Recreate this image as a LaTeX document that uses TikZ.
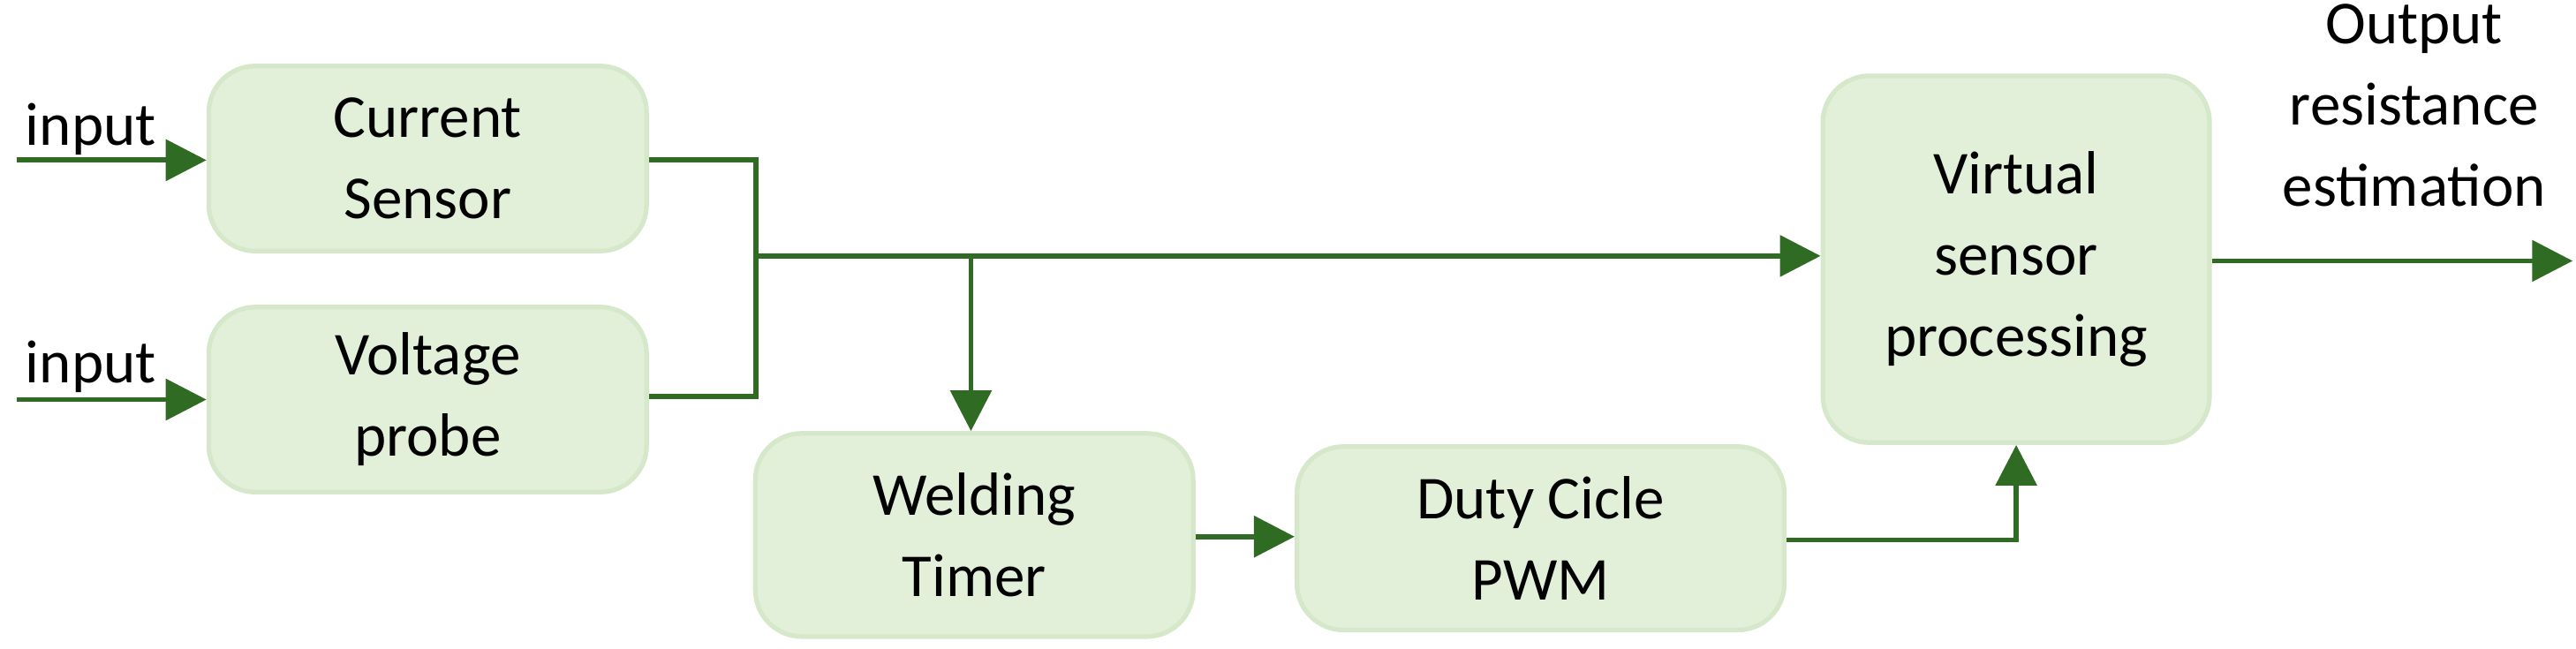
\documentclass[tikz,border=0pt]{standalone}
\usepackage{fontspec}
\setmainfont{Carlito}
\usetikzlibrary{arrows.meta}
\usetikzlibrary{calc}
\definecolor{boxfill}{HTML}{E2F0D9}
\definecolor{boxline}{HTML}{D5E8CA}
\definecolor{wire}{HTML}{2F6B22}
\tikzset{
    block/.style = {rectangle, rounded corners=8pt, draw=boxline, fill=boxfill,
        line width=0.8pt, align=center, font=\fontsize{10.5}{14}\selectfont},
    wire/.style = {draw=wire, line width=0.9pt},
    arr/.style = {wire, -{Triangle[length=7pt,width=7pt]}},
    lbl/.style = {align=center, font=\fontsize{10.5}{14}\selectfont},
}
\begin{document}
\begin{tikzpicture}[x=0.01cm,y=-0.01cm]
\useasboundingbox (0,0) rectangle (1560,393);
% blocks
\node [block, minimum width=2.65cm, minimum height=1.12cm] (cur) at (259,96) {Current\\Sensor};
\node [block, minimum width=2.65cm, minimum height=1.12cm] (volt) at (259,242) {Voltage\\probe};
\node [block, minimum width=2.65cm, minimum height=1.23cm] (weld) at (590,324) {Welding\\Timer};
\node [block, minimum width=2.95cm, minimum height=1.11cm] (duty) at (933,326) {Duty Cicle\\PWM};
\node [block, minimum width=2.34cm, minimum height=2.22cm] (virt) at (1221,157) {Virtual\\sensor\\processing};
% free ends
\coordinate (in1) at (10,97);
\coordinate (in2) at (10,242);
\coordinate (out) at (1558,158);
\coordinate (jx) at (458,155);
\coordinate (br) at (588,155);
% labels
\node [lbl] (lin1) at (55,78) {input};
\node [lbl] (lin2) at (55,222) {input};
\node [lbl] (lout) at (1462,64) {Output\\resistance\\estimation};
% connectors
\draw [arr] (in1) -- (cur.west |- in1);
\draw [arr] (in2) -- (volt.west |- in2);
\draw [wire] (cur.east |- 0,97) -- (458,97) -- (458,240) -- (volt.east |- 0,240);
\draw [arr] (jx) -- (virt.west |- jx);
\draw [arr] (br) -- (br |- weld.north);
\draw [arr] (weld.east |- 0,325) -- (duty.west |- 0,325);
\draw [arr] (duty.east |- 0,327) -| (virt.south);
\draw [arr] (virt.east |- out) -- (out);
\end{tikzpicture}
\end{document}
